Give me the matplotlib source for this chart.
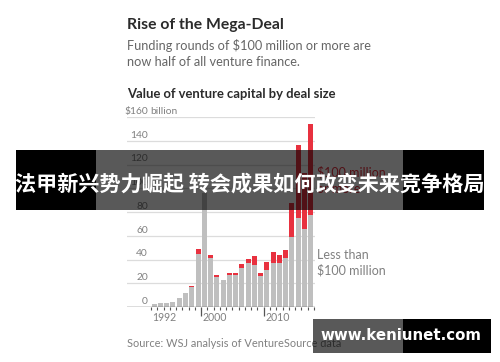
import matplotlib
matplotlib.use("Agg")
import matplotlib.pyplot as plt
from matplotlib.patches import Rectangle

# --- data: value of venture capital by deal size, $ billion ---
YEARS = list(range(1992, 2018))
UNDER_100M = [2.5, 3, 3.4, 4.5, 7.3, 12, 17, 44.4, 96, 41, 25.5, 22.7, 27,
              27.2, 32.8, 37.3, 35.4, 26.1, 31.2, 36.8, 36.8, 41, 59, 74.7, 66, 77.5]
OVER_100M = [0, 0, 0, 0, 0, 0, 0.6, 4.4, 0, 2.8, 1.2, 0, 1.9,
             1.7, 3.4, 2.8, 7.8, 2.8, 7, 9.2, 6.7, 7, 28.8, 61.7, 46.6, 76.5]
Y_TICKS = [0, 20, 40, 60, 80, 100, 120, 140, 160]
YEAR_LABELS = [1992, 2000, 2010]

# --- colours ---
GRAY_BAR = "#bfbfbf"
RED = "#e8313f"
GRID = "#dcdcdc"
AXIS = "#555555"
DARK = "#2b2b2b"
MID = "#666666"
LIGHT = "#808080"

W, H = 500, 362
FONT = "Lato"


def ftext(fig, x, y, s, **kw):
    """figure text placed in pixel coords (origin top-left)"""
    kw.setdefault("family", FONT)
    return fig.text(x / W, 1 - y / H, s, **kw)


def frect(fig, x0, y0, x1, y1, **kw):
    r = Rectangle((x0 / W, 1 - y1 / H), (x1 - x0) / W, (y1 - y0) / H,
                  transform=fig.transFigure, linewidth=0, **kw)
    fig.patches.append(r)


fig = plt.figure(figsize=(W / 100, H / 100), dpi=100)
fig.patch.set_facecolor("white")

# headline block
ftext(fig, 127, 29, "Rise of the Mega-Deal", fontsize=11.3, weight="bold",
      color=DARK, va="baseline")
ftext(fig, 127, 49.5, "Funding rounds of $100 million or more are", fontsize=9.2,
      color=MID, va="baseline")
ftext(fig, 127, 66.5, "now half of all venture finance.", fontsize=9.2,
      color=MID, va="baseline")
ftext(fig, 127, 97.5, "Value of venture capital by deal size", fontsize=9.35,
      weight="bold", color=DARK, va="baseline")

# chart axes: 0 at y=307px, 160 at y=117px, x from 127 to 315px
ax = fig.add_axes([127 / W, 1 - 307 / H, 188 / W, 190 / H])
ax.set_xlim(1987.655, 2017.69)
ax.set_ylim(0, 160)
for s in ax.spines.values():
    s.set_visible(False)
ax.set_facecolor("none")
ax.set_yticks([])

for v in Y_TICKS[1:]:
    ax.axhline(v, color=GRID, linewidth=0.9, zorder=0)
ax.axhline(0, color=AXIS, linewidth=1.0, zorder=3)

ax.bar(YEARS, UNDER_100M, width=0.8, color=GRAY_BAR, zorder=2)
ax.bar(YEARS, OVER_100M, width=0.8, bottom=UNDER_100M, color=RED, zorder=2)

# y labels sit above the gridlines, right-aligned
ytr = ax.get_yaxis_transform()
lx = (148 - 127) / 188
for v in Y_TICKS:
    lab = "$160" if v == 160 else str(v)
    ax.text(lx, v + 2.6, lab, transform=ytr, ha="right", va="baseline",
            fontsize=7.4, color=LIGHT, family=FONT)
ax.text(lx + 2 / 188, 162.6, "billion", transform=ytr, ha="left", va="baseline",
        fontsize=7.4, color=LIGHT, family=FONT)

# year ticks at bar boundaries, tall ones at decades
bounds = [y - 0.5 for y in YEARS] + [YEARS[-1] + 0.5]
major = [b for b in bounds if b + 0.5 in (2000, 2010)]
minor = [b for b in bounds if b not in major]
ax.set_xticks(major)
ax.set_xticks(minor, minor=True)
ax.set_xticklabels([])
ax.tick_params(axis="x", which="major", length=6.5, width=0.9, color=AXIS)
ax.tick_params(axis="x", which="minor", length=2.5, width=0.8, color=AXIS)
for y in YEAR_LABELS:
    ax.text(y - 0.5 + 0.22, -11.5, str(y), ha="left", va="baseline",
            fontsize=7.6, color=LIGHT, family=FONT, clip_on=False)

# series labels
ftext(fig, 317, 177, "$100 million", fontsize=9, color=RED, va="baseline", zorder=2)
ftext(fig, 317, 193, "or more", fontsize=9, color=RED, va="baseline", zorder=2)
ftext(fig, 317, 259, "Less than", fontsize=9, color=LIGHT, va="baseline")
ftext(fig, 317, 275, "$100 million", fontsize=9, color=LIGHT, va="baseline")

ftext(fig, 127, 346.7, "Source: WSJ analysis of VentureSource data", fontsize=7.9,
      color=LIGHT, va="baseline")

# banner overlay
frect(fig, 16, 150, 96, 210, color="black", zorder=5)
frect(fig, 403, 150, 484, 210, color="black", zorder=5)
frect(fig, 96, 150, 403, 210, color="black", alpha=0.65, zorder=5)
ftext(fig, 250, 184, "法甲新兴势力崛起 转会成果如何改变未来竞争格局",
      family=["Noto Sans CJK SC", "DejaVu Sans"], fontsize=15.2, weight="bold",
      color="white", ha="center", va="center", zorder=6)

# watermark
frect(fig, 313, 319, 403, 353, color="black", alpha=0.65, zorder=5)
frect(fig, 403, 319, 491, 353, color="black", zorder=5)
ftext(fig, 401, 336, "www.keniunet.com", family="DejaVu Sans", fontsize=10.8,
      weight="bold", color="white", ha="center", va="center", zorder=6)

fig.savefig("out.png", dpi=100, facecolor="white")
